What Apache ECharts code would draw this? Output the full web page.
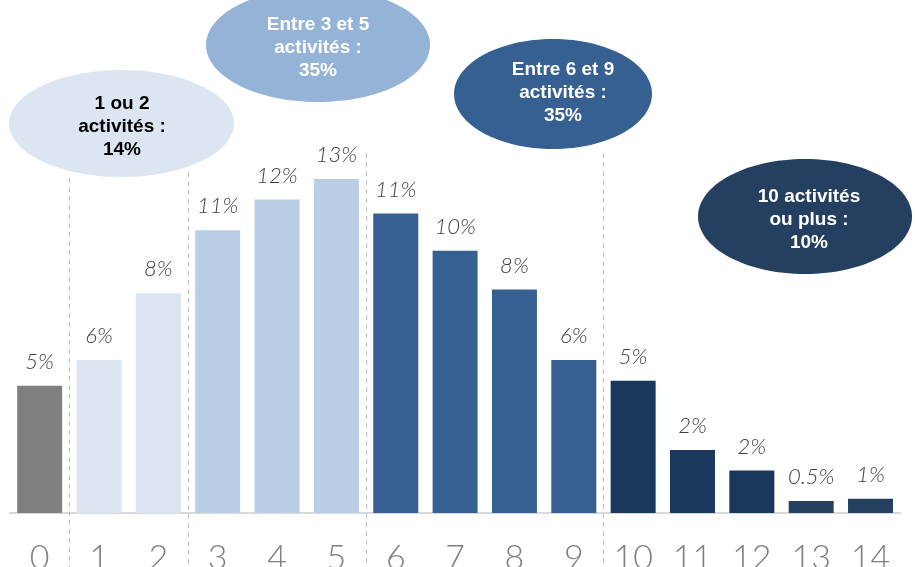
<!DOCTYPE html>
<html>
<head>
<meta charset="utf-8">
<script src="https://cdn.jsdelivr.net/npm/echarts@6/dist/echarts.min.js"></script>
<style>html,body{margin:0;padding:0;background:#fff;}#c{width:915px;height:567px;}</style>
</head>
<body>
<div id="c"></div>
<script>
// ---- data ----
var categories = ['0','1','2','3','4','5','6','7','8','9','10','11','12','13','14'];
var values = [4.95, 5.95, 8.55, 11.0, 12.2, 13.0, 11.65, 10.2, 8.7, 5.95, 5.15, 2.45, 1.65, 0.47, 0.55];
var valueLabels = ['5%','6%','8%','11%','12%','13%','11%','10%','8%','6%','5%','2%','2%','0.5%','1%'];
var groupTexts = ['1 ou 2\nactivités :\n14%', 'Entre 3 et 5\nactivités :\n35%', 'Entre 6 et 9\nactivités :\n35%', '10 activités\nou plus :\n10%'];
var groupBoundaries = [0, 2, 5, 9]; // separator after these category indices

// ---- styles ----
var barColors = ['#7f7f7f','#dce6f2','#dce6f2','#b9cde5','#b9cde5','#b9cde5','#376092','#376092','#376092','#376092','#1a375e','#1a375e','#1a375e','#254061','#254061'];
var ellipseStyles = [
  {cx:121.5, cy:123.5, rx:112.5, ry:53.5, fill:'#dce6f2', text:'#000000', tx:122, ty:127},
  {cx:318, cy:45, rx:112, ry:57, fill:'#95b3d7', text:'#ffffff', tx:318, ty:48},
  {cx:553, cy:94, rx:99, ry:55, fill:'#366092', text:'#ffffff', tx:563, ty:93},
  {cx:805, cy:216.5, rx:107, ry:57.5, fill:'#243f60', text:'#ffffff', tx:809, ty:220}
];
var sepTops = [178, 172, 153, 153];

var chart = echarts.init(document.getElementById('c'), null, {renderer:'canvas'});
var option = {
  animation: false,
  backgroundColor: '#ffffff',
  grid: {left: 10, right: 14.8, top: 50.4, bottom: 54, containLabel: false, outerBoundsMode: 'none'},
  xAxis: {
    type: 'category',
    data: categories,
    axisTick: {show: false},
    axisLine: {show: true, lineStyle: {color: '#d9d9d9', width: 2}},
    axisLabel: {color: '#7f7f7f', fontSize: 34, fontFamily: 'Lato', fontWeight: 300, margin: 28}
  },
  yAxis: {type: 'value', min: 0, max: 18, show: false, splitLine: {show: false}},
  series: [{
    type: 'bar',
    data: values,
    barWidth: 45,
    itemStyle: {color: function (p) { return barColors[p.dataIndex]; }},
    label: {
      show: true, position: 'top', distance: 13,
      formatter: function (p) { return valueLabels[p.dataIndex]; },
      color: '#404040', fontSize: 22, fontStyle: 'italic', fontFamily: 'Lato', fontWeight: 300, lineHeight: 22
    }
  }]
};
chart.setOption(option);

var graphics = [];
groupBoundaries.forEach(function (idx, i) {
  var a = chart.convertToPixel({xAxisIndex: 0}, idx);
  var b = chart.convertToPixel({xAxisIndex: 0}, idx + 1);
  var x = Math.round((a + b) / 2) + 0.5;
  graphics.push({
    type: 'line', z: 5,
    shape: {x1: x, y1: sepTops[i], x2: x, y2: 567},
    style: {stroke: '#bfbfbf', lineWidth: 1, lineDash: [5, 4]}
  });
});
ellipseStyles.forEach(function (e, i) {
  graphics.push({
    type: 'ellipse', z: 10,
    shape: {cx: e.cx, cy: e.cy, rx: e.rx, ry: e.ry},
    style: {fill: e.fill}
  });
  graphics.push({
    type: 'text', z: 11,
    x: e.tx, y: e.ty,
    style: {
      text: groupTexts[i], fill: e.text, align: 'center', verticalAlign: 'middle',
      font: 'bold 19px "Liberation Sans", Arial, sans-serif', lineHeight: 23
    }
  });
});
chart.setOption({graphic: graphics});
</script>
</body>
</html>
